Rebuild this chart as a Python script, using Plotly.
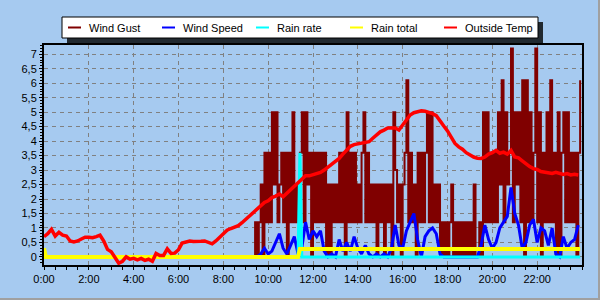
import plotly.graph_objects as go

# ---------------- data ----------------
TICK_HOURS = [0, 2, 4, 6, 8, 10, 12, 14, 16, 18, 20, 22]
TICK_LABELS = ["0:00", "2:00", "4:00", "6:00", "8:00", "10:00",
               "12:00", "14:00", "16:00", "18:00", "20:00", "22:00"]

SERIES_NAMES = ["Wind Gust", "Wind Speed", "Rain rate", "Rain total", "Outside Temp"]
SERIES_COLORS = ["#800000", "#0000FF", "#00FFFF", "#FFFF00", "#FF0000"]

# Wind gust, 5-minute samples starting 9:20
GUST_START, GUST_STEP = "9:20", 5
wind_gust = [
    0, 1.2, 0, 1.2, 2.5, 0, 3.6, 1.2,                             # 9:20-9:55
    3.6, 1.2, 5.0, 2.5, 5.0, 1.2, 2.5, 3.6, 1.2, 3.6, 0, 3.6,     # 10
    1.2, 5.0, 1.2, 2.5, 1.2, 3.6, 5.0, 1.2, 5.0, 2.5, 3.6, 0,     # 11
    3.6, 1.2, 3.6, 1.2, 3.6, 1.2, 3.6, 0, 2.5, 0, 2.5, 1.2,       # 12
    2.5, 1.2, 3.6, 1.2, 3.6, 0, 5.0, 1.2, 3.6, 1.2, 3.6, 1.2,     # 13
    2.5, 1.2, 3.6, 5.0, 1.2, 3.6, 1.2, 2.5, 1.2, 2.5, 0, 2.5,     # 14
    1.2, 2.5, 0, 2.5, 1.2, 2.5, 0, 5.0, 3.0, 1.2, 2.5, 0,         # 15
    2.5, 3.6, 6.1, 1.2, 3.6, 1.2, 2.5, 0, 3.6, 1.2, 3.6, 1.2,     # 16
    3.6, 5.0, 1.2, 5.0, 1.2, 2.5, 1.2, 2.5, 0, 1.2, 0, 1.2,       # 17
    0, 1.2, 2.5, 0, 1.2, 0, 1.2, 0, 1.2, 0, 1.2, 0,               # 18
    1.2, 0, 2.5, 0, 0, 1.2, 0, 5.0, 1.2, 5.0, 1.2, 3.6,           # 19
    1.2, 3.6, 1.2, 5.0, 2.5, 6.1, 1.2, 5.0, 2.5, 3.6, 7.2, 1.2,   # 20
    5.0, 2.5, 5.0, 1.2, 6.1, 0, 6.1, 1.2, 5.0, 1.2, 3.6, 7.2,     # 21
    1.2, 5.0, 0, 3.6, 1.2, 5.0, 1.2, 6.1, 1.2, 3.6, 0, 5.0,       # 22
    0, 3.6, 5.0, 1.2, 5.0, 1.2, 3.6, 1.2, 3.6, 0, 3.6, 6.1,       # 23
]

# Wind speed, 10-minute samples starting 9:30
SPEED_START, SPEED_STEP = "9:30", 10
wind_speed = [
    0, 0.1, 0.3,                          # 9:30-9:50
    0.1, 0.2, 0.5, 0.8, 0.3, 0.1,         # 10
    0.4, 0.7, 0.1, 0.3, 1.2, 0.6,         # 11
    0.9, 0.7, 0.9, 0.2, 0.0, 0.1,         # 12
    0.0, 0.6, 0.2, 0.5, 0.2, 0.7,         # 13
    0.3, 0.1, 0.4, 0.1, 0.0, 0.1,         # 14
    0.0, 0.1, 0.0, 0.3, 1.1, 0.4,         # 15
    0.3, 0.9, 1.2, 1.5, 0.6, 0.0,         # 16
    0.7, 0.9, 1.0, 0.8, 0.1, 0.0,         # 17
    0, 0, 0, 0, 0, 0,                     # 18
    0, 0, 0, 0.4, 1.1, 0.6,               # 19
    0.3, 0.5, 1.0, 1.2, 1.4, 2.4,         # 20
    1.5, 1.1, 0.3, 0.5, 1.1, 1.3,         # 21
    0.5, 1.0, 0.9, 0.4, 1.0, 0.1,         # 22
    0.0, 0.7, 0.3, 0.5, 0.6, 1.1,         # 23
]

# Outside temperature, 10-minute samples starting 0:00
TEMP_START, TEMP_STEP = "0:00", 10
outside_temp = [
    0.70, 0.80, 0.95, 0.72, 0.85, 0.75,     # 0
    0.72, 0.55, 0.52, 0.55, 0.62, 0.68,     # 1
    0.68, 0.66, 0.70, 0.75, 0.55, 0.26,     # 2
    0.18, -0.05, -0.22, -0.15, 0.0, -0.08,  # 3
    -0.05, -0.10, -0.05, -0.12, -0.08, -0.15,  # 4
    0.12, 0.05, 0.05, 0.28, 0.12, 0.13,     # 5
    0.25, 0.48, 0.53, 0.55, 0.53, 0.55,     # 6
    0.54, 0.55, 0.50, 0.45, 0.55, 0.68,     # 7
    0.80, 0.92, 0.98, 1.02, 1.08, 1.18,     # 8
    1.30, 1.42, 1.52, 1.68, 1.80, 1.88,     # 9
    1.94, 2.05, 2.10, 2.17, 2.08, 2.20,     # 10
    2.30, 2.40, 2.55, 2.68, 2.80, 2.80,     # 11
    2.84, 2.88, 2.92, 3.00, 3.10, 3.20,     # 12
    3.30, 3.40, 3.55, 3.70, 3.82, 3.88,     # 13
    3.90, 3.92, 3.95, 3.98, 4.10, 4.22,     # 14
    4.32, 4.38, 4.45, 4.45, 4.45, 4.38,     # 15
    4.55, 4.75, 4.90, 4.98, 5.02, 5.05,     # 16
    5.03, 5.00, 4.95, 4.88, 4.72, 4.52,     # 17
    4.35, 4.15, 3.92, 3.80, 3.72, 3.60,     # 18
    3.52, 3.45, 3.41, 3.40, 3.45, 3.55,     # 19
    3.60, 3.68, 3.58, 3.62, 3.55, 3.68,     # 20
    3.45, 3.42, 3.32, 3.20, 3.12, 3.05,     # 21
    3.02, 2.95, 2.92, 2.90, 2.88, 2.92,     # 22
    2.88, 2.85, 2.88, 2.83, 2.85, 2.83,     # 23
]

rain_rate_times = ["0:00", "11:20", "11:25", "11:30", "23:55"]
rain_rate = [0, 0, 3.6, 0, 0]

rain_total_times = ["0:00", "0:05", "11:20", "11:25", "23:55"]
rain_total = [0.3, 0, 0, 0.27, 0.27]


# ---------------- helpers ----------------
def hours(s):
    h, m = s.split(":")
    return int(h) + int(m) / 60.0


def grid(start, step_min, n):
    return [hours(start) + k * step_min / 60.0 for k in range(n)]


FONT = "Liberation Sans, Arial, sans-serif"
BG = "#A6CAF0"

fig = go.Figure()
fig.add_trace(go.Scatter(x=grid(GUST_START, GUST_STEP, len(wind_gust)), y=wind_gust,
                         mode="lines", name=SERIES_NAMES[0], line_shape="hv",
                         line=dict(color=SERIES_COLORS[0], width=2)))
fig.add_trace(go.Scatter(x=grid(SPEED_START, SPEED_STEP, len(wind_speed)), y=wind_speed,
                         mode="lines", name=SERIES_NAMES[1],
                         line=dict(color=SERIES_COLORS[1], width=3)))
fig.add_trace(go.Scatter(x=[hours(t) for t in rain_rate_times], y=rain_rate,
                         mode="lines", name=SERIES_NAMES[2],
                         line=dict(color=SERIES_COLORS[2], width=3)))
fig.add_trace(go.Scatter(x=[hours(t) for t in rain_total_times], y=rain_total,
                         mode="lines", name=SERIES_NAMES[3],
                         line=dict(color=SERIES_COLORS[3], width=4)))
fig.add_trace(go.Scatter(x=grid(TEMP_START, TEMP_STEP, len(outside_temp)), y=outside_temp,
                         mode="lines", name=SERIES_NAMES[4],
                         line=dict(color=SERIES_COLORS[4], width=3.5)))

# plot area in pixels
L, R, T, B = 44, 582, 45, 265
W, H = R - L, B - T


def px(x):
    return (x - L) / W


def py(y):
    return (B - y) / H


shapes = []
annotations = []
# legend shadow + box
shapes.append(dict(type="rect", xref="paper", yref="paper",
                   x0=px(67), x1=px(543), y0=py(43), y1=py(22),
                   fillcolor="rgba(0,0,0,0.8)", line=dict(width=0), layer="above"))
shapes.append(dict(type="rect", xref="paper", yref="paper",
                   x0=px(62), x1=px(538), y0=py(38), y1=py(17),
                   fillcolor="white", line=dict(color="black", width=1), layer="above"))
legend_line_x = [68, 162, 256, 350, 444]
legend_text_x = [87, 181, 275, 369, 463]
for name, color, lx, tx in zip(SERIES_NAMES, SERIES_COLORS, legend_line_x, legend_text_x):
    shapes.append(dict(type="line", xref="paper", yref="paper",
                       x0=px(lx), x1=px(lx + 13), y0=py(27.5), y1=py(27.5),
                       line=dict(color=color, width=2), layer="above"))
    annotations.append(dict(xref="paper", yref="paper", x=px(tx), y=py(28),
                            xanchor="left", yanchor="middle", showarrow=False,
                            text=name, font=dict(family=FONT, size=11, color="black")))
# window bevel on right / bottom
shapes.append(dict(type="rect", xref="paper", yref="paper",
                   x0=px(598), x1=px(601), y0=py(301), y1=py(-1),
                   fillcolor="#a0a0a0", line=dict(width=0), layer="above"))
shapes.append(dict(type="rect", xref="paper", yref="paper",
                   x0=px(-1), x1=px(601), y0=py(301), y1=py(298),
                   fillcolor="#a0a0a0", line=dict(width=0), layer="above"))

fig.update_layout(
    width=600, height=300,
    margin=dict(l=L, r=600 - R, t=T, b=300 - B, pad=0),
    paper_bgcolor=BG, plot_bgcolor=BG,
    showlegend=False, hovermode=False,
    separators=", ",
    font=dict(family=FONT, size=11, color="black"),
    shapes=shapes, annotations=annotations,
    xaxis=dict(range=[0, 24], tickmode="array", tickvals=TICK_HOURS, ticktext=TICK_LABELS,
               showgrid=True, gridcolor="#808080", griddash="4px,4px", gridwidth=1,
               showline=True, linecolor="black", linewidth=2, mirror=True,
               ticks="outside", ticklen=3, tickcolor="black", zeroline=False,
               minor=dict(tickmode="linear", tick0=0, dtick=0.5, ticks="outside",
                          ticklen=3, tickcolor="black", showgrid=False),
               tickfont=dict(family=FONT, size=11, color="black")),
    yaxis=dict(range=[-0.28, 7.32], tickmode="linear", tick0=0, dtick=0.5,
               showgrid=True, gridcolor="#808080", griddash="4px,4px", gridwidth=1,
               showline=True, linecolor="black", linewidth=2, mirror=True,
               ticks="outside", ticklen=3, tickcolor="black", zeroline=False,
               minor=dict(tickmode="linear", tick0=0, dtick=0.1, ticks="outside",
                          ticklen=2, tickcolor="black", showgrid=False),
               tickfont=dict(family=FONT, size=11, color="black")),
)

fig.write_html("out.html")
